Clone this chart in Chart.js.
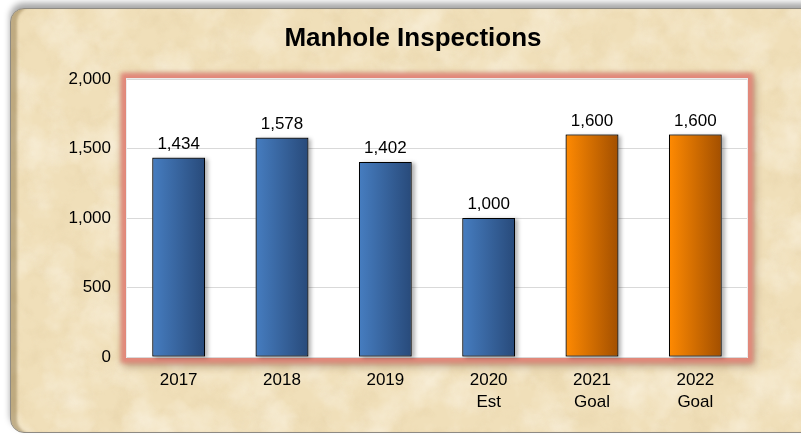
<!DOCTYPE html>
<html lang="en">
<head>
    <meta charset="UTF-8">
    <script src="https://cdn.jsdelivr.net/npm/chart.js"></script>
    <title>Manhole Inspections</title>
    <style>
        body { margin: 0; background: #fff; overflow: hidden; }
        #panel {
            position: absolute; left: 10px; top: 8px; width: 805px; height: 423px;
            border: 1px solid #8e8a82; border-radius: 14px 0 0 14px;
            box-shadow: inset 8px 0 3px -2px rgba(150,125,80,.55), 0 -5px 6px rgba(0,0,0,.35);
            background-color: #f1e0ba;
        }
        #wrap { position: absolute; left: 0; top: 0; }
    </style>
</head>
<body>
    <div id="panel"></div>
    <div id="wrap"><canvas id="myChart" width="801" height="436"></canvas></div>

    <script>
        // inspection counts per year
        const chartTitle = 'Manhole Inspections';
        const years = [['2017'], ['2018'], ['2019'], ['2020', 'Est'], ['2021', 'Goal'], ['2022', 'Goal']];
        const inspections = [1434, 1578, 1402, 1000, 1600, 1600];
        const isGoal = [false, false, false, false, true, true];
        const yTicks = [0, 500, 1000, 1500, 2000];

        // parchment texture for the panel
        const svg = "<svg xmlns='http://www.w3.org/2000/svg' width='801' height='436'>" +
            "<filter id='n'><feTurbulence type='fractalNoise' baseFrequency='0.05' numOctaves='5' seed='7'/>" +
            "<feColorMatrix values='0 0 0 0 0.75  0 0 0 0 0.6  0 0 0 0 0.35  1.6 0 0 0 -0.7'/></filter>" +
            "<filter id='m'><feTurbulence type='fractalNoise' baseFrequency='0.025' numOctaves='4' seed='2'/>" +
            "<feColorMatrix values='0 0 0 0 1  0 0 0 0 0.97  0 0 0 0 0.9  0 1.6 0 0 -0.65'/></filter>" +
            "<rect width='100%' height='100%' fill='#f0dfb9'/>" +
            "<rect width='100%' height='100%' filter='url(#n)' opacity='0.45'/>" +
            "<rect width='100%' height='100%' filter='url(#m)' opacity='0.6'/></svg>";
        document.getElementById('panel').style.backgroundImage =
            'url("data:image/svg+xml,' + encodeURIComponent(svg) + '")';

        const font = "'Liberation Sans', Arial, sans-serif";

        function barGradient(c) {
            const chart = c.chart;
            const xs = chart.scales.x;
            if (!xs || !chart.chartArea) return isGoal[c.dataIndex] ? '#e07800' : '#3a6aa8';
            const cx = xs.getPixelForValue(c.dataIndex);
            const half = xs.width / years.length * 0.51 / 2;
            const g = chart.ctx.createLinearGradient(cx - half, 0, cx + half, 0);
            if (isGoal[c.dataIndex]) {
                g.addColorStop(0, '#ff8a02');
                g.addColorStop(1, '#a24f00');
            } else {
                g.addColorStop(0, '#467dc0');
                g.addColorStop(1, '#284a7a');
            }
            return g;
        }

        // white plot area with a soft red frame, plus the title
        const plotFrame = {
            id: 'plotFrame',
            beforeDraw(chart) {
                const { ctx, chartArea: a } = chart;
                ctx.save();
                ctx.filter = 'blur(4px)';
                ctx.fillStyle = 'rgba(110,70,50,0.45)';
                ctx.fillRect(a.left - 4, a.top - 3, a.width + 12, a.height + 12);
                ctx.filter = 'blur(2px)';
                ctx.fillStyle = '#e2887a';
                ctx.fillRect(a.left - 6, a.top - 6, a.width + 12, a.height + 12);
                ctx.filter = 'none';
                ctx.fillStyle = '#ececec';
                ctx.fillRect(a.left - 1, a.top - 1, a.width + 2, a.height + 2);
                ctx.fillStyle = '#fff';
                ctx.fillRect(a.left, a.top, a.width, a.height);
                ctx.restore();

                ctx.save();
                ctx.font = 'bold 26px ' + font;
                ctx.fillStyle = '#000';
                ctx.textAlign = 'center';
                ctx.textBaseline = 'middle';
                ctx.fillText(chartTitle, 413, 39);
                ctx.restore();
            }
        };

        // bar shadows and value labels
        const barExtras = {
            id: 'barExtras',
            beforeDatasetsDraw(chart) {
                const ctx = chart.ctx;
                ctx.save();
                ctx.shadowColor = 'rgba(0,0,0,0.3)';
                ctx.shadowBlur = 4;
                ctx.shadowOffsetX = 3;
                ctx.shadowOffsetY = 1;
                ctx.fillStyle = '#888';
                chart.getDatasetMeta(0).data.forEach(b => {
                    ctx.fillRect(b.x - b.width / 2, b.y, b.width, b.base - b.y);
                });
                ctx.restore();
            },
            afterDatasetsDraw(chart) {
                const ctx = chart.ctx;
                ctx.save();
                ctx.font = '17px ' + font;
                ctx.fillStyle = '#000';
                ctx.textAlign = 'center';
                ctx.textBaseline = 'alphabetic';
                chart.getDatasetMeta(0).data.forEach((b, i) => {
                    ctx.fillText(inspections[i].toLocaleString('en-US'), b.x, b.y - 9);
                });
                ctx.restore();
            }
        };

        const ctx = document.getElementById('myChart').getContext('2d');
        const myChart = new Chart(ctx, {
            type: 'bar',
            data: {
                labels: years,
                datasets: [{
                    label: 'Inspections',
                    data: inspections,
                    backgroundColor: barGradient,
                    borderColor: '#000',
                    borderWidth: 1,
                    borderSkipped: false,
                    categoryPercentage: 1,
                    barPercentage: 0.51
                }]
            },
            options: {
                responsive: false,
                animation: false,
                layout: { padding: { left: 0, right: 54, top: 79, bottom: 0 } },
                plugins: {
                    legend: { display: false },
                    tooltip: { enabled: false },
                    title: { display: false }
                },
                scales: {
                    x: {
                        grid: { display: false, drawTicks: false },
                        border: { display: false },
                        ticks: { color: '#000', padding: 12, font: { family: font, size: 17, lineHeight: 1.3 }, maxRotation: 0 },
                        afterFit: s => { s.height = 79; }
                    },
                    y: {
                        min: 0,
                        max: 2000,
                        afterBuildTicks: s => { s.ticks = yTicks.map(v => ({ value: v })); },
                        grid: { color: '#d9d9d9', drawTicks: false, lineWidth: 1 },
                        border: { display: false },
                        ticks: { color: '#000', padding: 16, font: { family: font, size: 17 },
                                 callback: v => v.toLocaleString('en-US') },
                        afterFit: s => { s.width = 127; }
                    }
                }
            },
            plugins: [plotFrame, barExtras]
        });
    </script>
</body>
</html>
